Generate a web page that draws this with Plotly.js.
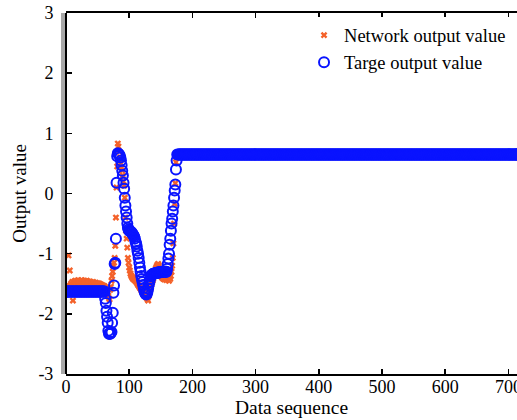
<!DOCTYPE html>
<html>
<head>
<meta charset="utf-8">
<script src="https://cdn.plot.ly/plotly-3.0.1.min.js"></script>
<style>html,body{margin:0;padding:0;background:#fff;}#chart{width:517px;height:420px;}</style>
</head>
<body>
<div id="chart"></div>
<script>
// ---- data ----
var seqEnd = 720;                 // last data index
var targetStartValue = -1.63;     // target level for indices 1..61
var targetStartCount = 61;
var steadyValue = 0.65;           // level after the transition (both series)
var steadyStart = 178;

// target output, indices 62..177
var targetMid = [
  -1.75,-1.82,-1.95,-2.05,-2.15,-2.28,-2.33,-2.33,-2.33,-2.32,-2.30,-2.15,-1.98,-1.65,-1.53,-1.17,-1.15,-0.75,
  0.18,0.62,0.67,0.66,0.65,0.63,0.60,0.55,0.47,0.38,0.30,0.18,0.08,-0.07,-0.20,-0.30,-0.40,-0.50,-0.57,-0.60,
  -0.62,-0.62,-0.63,-0.64,-0.65,-0.67,-0.68,-0.70,-0.72,-0.75,-0.80,-0.83,-0.88,-0.95,-1.00,-1.07,-1.15,-1.23,
  -1.30,-1.37,-1.42,-1.47,-1.52,-1.57,-1.62,-1.65,-1.67,-1.68,-1.67,-1.63,-1.58,-1.52,-1.47,-1.42,-1.38,-1.36,
  -1.35,-1.34,-1.34,-1.33,-1.33,-1.33,-1.32,-1.32,-1.32,-1.32,-1.31,-1.31,-1.31,-1.31,-1.31,-1.30,-1.30,-1.30,
  -1.30,-1.30,-1.30,-1.30,-1.30,-1.30,-1.25,-1.17,-1.08,-1.00,-0.85,-0.75,-0.62,-0.50,-0.42,-0.30,-0.20,-0.07,
  0.05,0.15,0.40,0.55,0.65
];

// network output, indices 1..177
var networkMid = [
  -1.55,-1.52,-1.58,-1.03,-1.60,-1.28,-1.55,-1.50,-1.62,-1.47,-1.78,-1.50,-1.46,-1.55,-1.45,-1.52,-1.47,-1.50,
  -1.44,-1.53,-1.46,-1.49,-1.45,-1.55,-1.44,-1.50,-1.47,-1.52,-1.45,-1.48,-1.46,-1.53,-1.45,-1.50,-1.47,-1.49,
  -1.46,-1.54,-1.47,-1.50,-1.48,-1.52,-1.47,-1.50,-1.49,-1.53,-1.48,-1.51,-1.50,-1.54,-1.49,-1.52,-1.50,-1.55,
  -1.51,-1.53,-1.52,-1.56,-1.53,-1.55,-1.54,-1.57,
  -1.58,-1.60,-1.62,-1.65,-1.70,-1.74,-1.76,-1.60,-1.55,-1.45,-1.37,-1.30,-1.20,-1.15,-1.07,-0.87,-0.40,0.10,
  0.45,0.83,0.78,0.70,0.55,0.60,0.50,0.43,0.38,0.30,0.20,0.13,-0.07,-0.40,-0.62,-0.75,-0.90,-1.07,-1.15,-1.23,
  -1.28,-1.33,-1.36,-1.38,-1.40,-1.42,-1.40,-1.44,-1.43,-1.45,-1.47,-1.46,-1.50,-1.52,-1.53,-1.55,-1.57,-1.58,
  -1.60,-1.62,-1.63,-1.65,-1.64,-1.67,-1.68,-1.70,-1.72,-1.74,-1.76,-1.78,-1.70,-1.65,-1.60,-1.57,-1.52,-1.48,
  -1.45,-1.42,-1.38,-1.35,-1.30,-1.25,-1.22,-1.20,-1.18,-1.17,-1.20,-1.25,-1.28,-1.32,-1.36,-1.40,-1.38,-1.42,
  -1.40,-1.43,-1.38,-1.41,-1.44,-1.40,-1.42,-1.38,-1.45,-1.40,-1.42,-1.37,-1.30,-1.20,-1.07,-0.83,-0.50,-0.17,
  0.17,0.52,0.60,0.63,0.65
];

var xTicks = [0,100,200,300,400,500,600,700];
var yTicks = [-3,-2,-1,0,1,2,3];

// ---- expand into full series ----
var idx = [], target = [], network = [];
for (var i = 1; i <= seqEnd; i++) {
  idx.push(i);
  if (i <= targetStartCount) target.push(targetStartValue);
  else if (i < steadyStart) target.push(targetMid[i - targetStartCount - 1]);
  else target.push(steadyValue);
  if (i <= networkMid.length) network.push(networkMid[i - 1]);
  else network.push(steadyValue);
}

var serif = '"Liberation Serif", "DejaVu Serif", serif';

var traces = [
  {x: idx, y: network, type: 'scatter', mode: 'markers', name: 'Network output value',
   marker: {symbol: 'x', size: 6, color: '#f4622a', line: {width: 0}}},
  {x: idx, y: target, type: 'scatter', mode: 'markers', name: 'Targe output value',
   marker: {symbol: 'circle-open', size: 10, color: '#0a14ff', line: {width: 2, color: '#0a14ff'}}},
  // empty trace that only carries the grey frame axis on the left
  {x: [], y: [], type: 'scatter', mode: 'markers', yaxis: 'y2', showlegend: false, hoverinfo: 'skip'}
];

var axisCommon = {
  showgrid: false, zeroline: false, showline: true, linecolor: '#000', linewidth: 2,
  ticks: 'inside', ticklen: 5, tickwidth: 1.5, tickcolor: '#000',
  tickfont: {family: serif, size: 18, color: '#000'}
};

var layout = {
  width: 517, height: 420,
  margin: {l: 58, r: 0, t: 13, b: 46},
  paper_bgcolor: '#fff', plot_bgcolor: '#fff',
  font: {family: serif},
  showlegend: true,
  legend: {x: 0.536, y: 0.99, xanchor: 'left', yanchor: 'top', bgcolor: 'rgba(255,255,255,1)',
           borderwidth: 0, font: {family: serif, size: 18.5, color: '#000'}, tracegroupgap: 0},
  xaxis: Object.assign({}, axisCommon, {
    domain: [0.0174, 1],
    range: [0, 713.6], tickvals: xTicks, ticktext: xTicks.map(String), mirror: 'ticks',
    ticklabeloverflow: 'allow', ticklabelstandoff: -5,
    title: {text: 'Data sequence', font: {family: serif, size: 19.5, color: '#000'}, standoff: 2}
  }),
  yaxis: Object.assign({}, axisCommon, {
    anchor: 'free', position: 0.0174,
    range: [-3, 3], tickvals: yTicks, ticktext: yTicks.map(String), ticklabelstandoff: 8,
    title: {text: 'Output value', font: {family: serif, size: 19, color: '#000'}, standoff: 6}
  }),
  yaxis2: {
    overlaying: 'y', anchor: 'free', position: 0.0088, side: 'left', range: [-3, 3],
    showline: true, linecolor: '#a8a8a8', linewidth: 3.5, showgrid: false, zeroline: false,
    showticklabels: false, ticks: ''
  }
};

Plotly.newPlot('chart', traces, layout, {displayModeBar: false, staticPlot: true});
</script>
</body>
</html>
